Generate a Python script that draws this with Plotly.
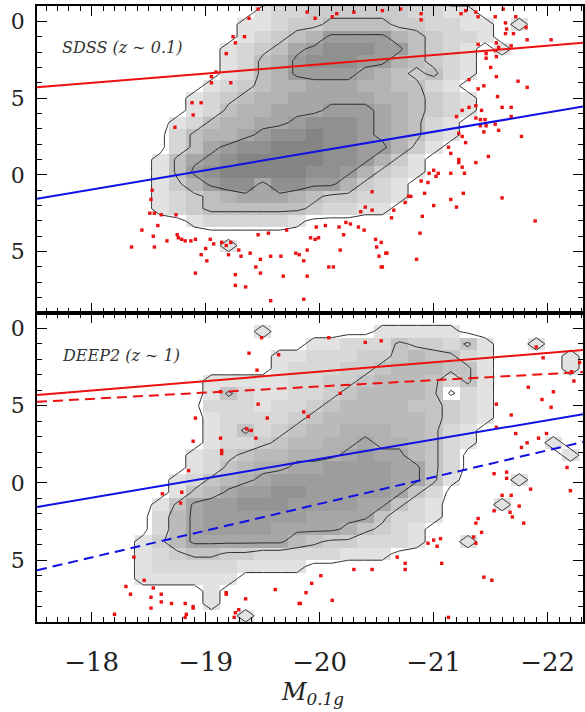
import plotly.graph_objects as go

# ---------------------------------------------------------------------------
# Binning of the colour-magnitude plane (bin centres)
# ---------------------------------------------------------------------------
MAG_CENTRES = [-18.45, -18.60, -18.75, -18.90, -19.05, -19.20, -19.35, -19.50, -19.65,
               -19.80, -19.95, -20.10, -20.25, -20.40, -20.55, -20.70, -20.85, -21.00,
               -21.15, -21.30, -21.45, -21.60, -21.75, -21.90, -22.05, -22.20]
COLOUR_CENTRES = [2.06, 1.98, 1.90, 1.82, 1.74, 1.66, 1.58, 1.50, 1.42, 1.34, 1.26, 1.18,
                  1.10, 1.02, 0.94, 0.86, 0.78, 0.70, 0.62, 0.54, 0.46, 0.38, 0.30, 0.22, 0.14]
MAG_STEP = 0.15
COLOUR_STEP = 0.08

# Galaxy density per bin (one character per magnitude bin, 0 = empty)
SDSS_DENSITY = [
    "00000001223333332211000000",
    "00000011233444433221101000",
    "00000012345777754322100000",
    "00000123467888774321010000",
    "00000124578887754321000000",
    "00000124577776543421000000",
    "00001234556665544210000000",
    "00012345566666554321000000",
    "00012455666777654321000000",
    "00124556678887654210000000",
    "00245567889887654210000000",
    "00246788999887753100000000",
    "01467899999887531000000000",
    "01478999998875321000000000",
    "01357886887753210000000000",
    "01234566654332210000000000",
    "01234444443221100000000000",
    "00012222210000000000000000",
    "00000000000000000000000000",
    "00000100000000000000000000",
]

DEEP2_DENSITY = [
    "00000000000000000000000000",
    "00000001000000111110000000",
    "00000000001122243324100100",
    "00000000112223345442100001",
    "00000000122233455544100001",
    "00001111122334555424100000",
    "00001421122345555402100000",
    "00002221223455554432100000",
    "00001222234555555432100000",
    "00001242345566655421000000",
    "00001223455667665421000010",
    "00012345566678775420000001",
    "00012456677888877420000000",
    "00124567888888877410001000",
    "00145788998888874200000000",
    "01478899988887742100010000",
    "02578888887777422100000000",
    "02578888777764321000000000",
    "13577777754332221001000000",
    "12344332222211100000000000",
    "12222211110000000000000000",
    "11111100000000000000000000",
    "00001000000000000000000000",
    "00001000000000000000000000",
    "00000010000000000000000000",
]

# Galaxies outside the lowest contour (absolute magnitude, colour)
SDSS_OUT_MAG = [
    -18.53, -18.52, -18.51, -18.55, -18.61, -18.58, -18.44, -18.54, -18.35, -18.55,
    -18.66, -18.75, -18.79, -18.82, -18.87, -18.91, -18.74, -19.04, -19.07, -19.00,
    -18.96, -19.01, -18.88, -18.89, -18.73, -18.91, -19.46, -19.38, -19.24, -19.26,
    -19.34, -19.18, -19.09, -19.05, -19.05, -19.22, -18.96, -18.76, -19.14, -19.22,
    -19.18, -19.20, -19.29, -19.31, -19.39, -19.48, -19.57, -19.66, -19.79, -19.82,
    -19.86, -19.89, -19.97, -19.96, -20.05, -19.92, -19.99, -20.18, -20.21, -20.23,
    -20.27, -20.34, -20.39, -20.36, -20.40, -20.46, -20.46, -20.49, -20.50, -20.52,
    -20.54, -20.59, -20.65, -20.63, -19.26, -19.48, -19.89, -20.12, -20.08, -19.68,
    -19.26, -19.35, -19.57, -19.86, -19.44, -19.55, -19.46, -19.71, -20.17, -20.89,
    -21.24, -21.28, -21.37, -21.39, -21.61, -21.54, -21.72, -21.63, -21.64, -21.63,
    -21.70, -21.81, -21.82, -22.03, -21.55, -21.57, -21.68, -21.54, -21.46, -21.46,
    -21.55, -21.50, -21.55, -21.74, -21.82, -21.39, -21.31, -21.39, -21.44, -21.56,
    -21.37, -21.31, -21.25, -21.20, -21.42, -21.60, -21.68, -21.68, -21.37, -21.41,
    -21.45, -21.46, -21.41, -21.54, -21.44, -21.57, -21.25, -21.28, -21.22, -21.77,
    -21.13, -21.15, -21.22, -21.22, -21.25, -21.27, -21.37, -21.48, -21.15, -21.00,
    -21.04, -21.02, -20.96, -20.95, -20.89, -20.80, -20.78, -20.75, -20.92, -21.26,
    -21.15, -21.00, -21.20, -21.60, -21.89, -20.90, -20.88, -20.85, -20.58, -20.55,
    -20.54, -19.89, -19.96, -20.11, -20.15, -20.30, -20.55, -20.71, -20.89,
]
SDSS_OUT_COL = [
    0.90, 0.84, 0.75, 0.75, 0.74, 0.67, 0.64, 0.60, 0.53, 0.53,
    0.57, 0.61, 0.58, 0.57, 0.57, 0.58, 0.74, 0.58, 0.55, 0.52,
    0.48, 0.44, 1.47, 1.39, 1.31, 0.36, 2.08, 2.02, 1.90, 1.86,
    1.90, 1.79, 1.67, 1.64, 1.60, 1.60, 1.47, 0.59, 0.56, 0.56,
    0.54, 0.48, 0.51, 0.47, 0.49, 0.45, 0.47, 0.47, 0.49, 0.48,
    0.44, 0.51, 0.66, 0.58, 0.67, 0.59, 0.59, 0.51, 0.61, 0.69,
    0.68, 0.66, 0.64, 0.76, 0.79, 0.77, 0.89, 0.58, 0.53, 0.47,
    0.40, 0.49, 0.77, 0.72, 0.35, 0.36, 0.34, 0.40, 0.40, 0.34,
    0.28, 0.27, 0.18, 0.19, 0.40, 0.62, 0.61, 0.64, 0.66, 2.05,
    2.05, 2.07, 2.06, 2.03, 2.08, 2.03, 2.03, 1.99, 1.95, 1.92,
    1.92, 1.96, 1.88, 1.88, 1.86, 1.83, 1.84, 1.81, 1.79, 1.76,
    1.77, 1.70, 1.64, 1.61, 1.57, 1.85, 1.62, 1.56, 1.58, 1.51,
    1.45, 1.44, 1.42, 1.38, 1.42, 1.44, 1.44, 1.38, 1.37, 1.36,
    1.36, 1.32, 1.32, 1.33, 1.28, 1.29, 1.25, 1.21, 1.27, 1.25,
    1.18, 1.14, 1.10, 1.08, 1.05, 1.01, 1.08, 1.12, 1.01, 1.03,
    1.01, 0.99, 1.01, 0.95, 0.96, 0.86, 0.86, 0.82, 0.88, 0.88,
    0.84, 0.80, 0.79, 0.85, 0.70, 0.73, 0.62, 0.45, 0.49, 0.40,
    0.56, 2.06, 2.02, 2.03, 2.05, 2.06, 2.07, 2.08, 2.01,
]

DEEP2_OUT_MAG = [
    -18.91, -18.89, -18.85, -18.62, -18.79, -18.37, -18.30, -18.34, -18.46, -18.52,
    -18.54, -18.61, -18.70, -18.89, -18.83, -18.20, -18.52, -19.14, -18.61, -18.82,
    -19.18, -19.49, -19.38, -19.64, -19.45, -19.13, -19.46, -19.54, -19.90, -19.36,
    -19.40, -19.13, -19.44, -19.14, -18.78, -20.08, -20.40, -20.54, -20.18, -19.86,
    -20.68, -20.46, -20.30, -20.01, -19.93, -19.88, -20.11, -19.83, -19.61, -19.35,
    -19.18, -18.89, -19.26, -19.29, -21.96, -21.90, -22.28, -22.21, -22.23, -21.83,
    -22.05, -21.95, -22.03, -21.55, -21.68, -21.55, -21.72, -21.92, -21.99, -21.82,
    -21.77, -22.17, -22.20, -21.53, -21.64, -21.64, -21.85, -21.60, -21.68, -21.53,
    -21.67, -21.75, -21.69, -21.79, -21.39, -21.37, -21.42, -21.35, -21.37, -21.06,
    -21.00, -21.03, -20.95, -21.07, -20.75, -20.75, -21.44, -21.51, -21.13, -18.82,
    -19.25, -19.82,
]
DEEP2_OUT_COL = [
    1.42, 1.27, 1.08, 0.93, 0.94, 0.52, 0.33, 0.28, 0.37, 0.26,
    0.32, 0.23, 0.22, 0.20, 0.15, 0.15, 0.19, 1.21, 0.28, 0.22,
    0.29, 1.94, 1.84, 1.83, 1.73, 1.59, 1.51, 1.42, 1.43, 1.35,
    1.34, 1.29, 1.29, 1.19, 0.87, 1.94, 1.91, 1.92, 1.58, 1.46,
    0.52, 0.44, 0.44, 0.40, 0.35, 0.29, 0.24, 0.22, 0.31, 0.25,
    0.28, 0.19, 0.16, 0.18, 1.81, 1.88, 1.78, 1.72, 1.66, 1.62,
    1.59, 1.54, 1.49, 1.51, 1.44, 1.36, 1.32, 1.29, 1.32, 1.26,
    1.23, 1.10, 0.95, 1.06, 1.07, 1.03, 0.96, 0.92, 0.92, 0.82,
    0.81, 0.85, 0.78, 0.74, 0.77, 0.74, 0.68, 0.65, 0.61, 0.64,
    0.63, 0.59, 0.61, 0.48, 0.48, 0.44, 0.39, 0.37, 0.13, 0.13,
    0.13, 0.22,
]

# Red-sequence / blue-cloud ridge lines, evaluated at the plot edges
FIT_MAG = [-17.52, -22.31]
SDSS_RED_FIT = [1.57, 1.86]
SDSS_BLUE_FIT = [0.845, 1.445]
DEEP2_RED_FIT = [1.525, 1.718]
DEEP2_BLUE_FIT = [0.435, 1.265]

X_RANGE = [-17.52, -22.31]
Y_RANGE = [0.1, 2.1]
Y_TICKS = [0.5, 1.0, 1.5, 2.0]
Y_TICK_TEXT = ["5", "0", "5", "0"]

CONTOUR_LEVELS = dict(start=0.5, end=6.5, size=3)
RED = "rgb(236,16,16)"
BLUE = "rgb(16,16,228)"
SERIF = "DejaVu Serif"


def parse_grid(rows):
    return [[int(ch) for ch in row] for row in rows]


def padded(grid, xs, ys):
    """Surround the grid with empty bins so outer contours close."""
    ncol = len(grid[0])
    z = [[0] * (ncol + 2)]
    for row in grid:
        z.append([0] + row + [0])
    z.append([0] * (ncol + 2))
    xp = [xs[0] + MAG_STEP] + list(xs) + [xs[-1] - MAG_STEP]
    yp = [ys[0] + COLOUR_STEP] + list(ys) + [ys[-1] - COLOUR_STEP]
    return z, xp, yp


def density_traces(rows, xa, ya, zmax):
    grid = parse_grid(rows)
    ys = COLOUR_CENTRES[:len(grid)]
    shade = [[v if v > 0 else None for v in row] for row in grid]
    heat = go.Heatmap(
        z=shade, x=MAG_CENTRES, y=ys, xaxis=xa, yaxis=ya,
        zmin=1, zmax=zmax, zsmooth=False, showscale=False, hoverinfo="skip",
        colorscale=[[0, "rgb(226,226,226)"], [1, "rgb(132,132,132)"]],
    )
    zc, xc, yc = padded(grid, MAG_CENTRES, ys)
    cont = go.Contour(
        z=zc, x=xc, y=yc, xaxis=xa, yaxis=ya,
        contours=dict(coloring="lines", **CONTOUR_LEVELS),
        colorscale=[[0, "rgb(40,40,40)"], [1, "rgb(40,40,40)"]],
        line=dict(width=1, smoothing=0), showscale=False, hoverinfo="skip",
    )
    return [heat, cont]


def outlier_trace(mags, cols, xa, ya):
    return go.Scatter(
        x=mags, y=cols, xaxis=xa, yaxis=ya, mode="markers",
        marker=dict(symbol="square", size=3.4, color=RED, line=dict(width=0)),
        hoverinfo="skip",
    )


def fit_trace(vals, color, dash, xa, ya):
    return go.Scatter(
        x=FIT_MAG, y=vals, xaxis=xa, yaxis=ya, mode="lines",
        line=dict(color=color, width=2, dash=dash), hoverinfo="skip",
    )


traces = []
# upper panel: SDSS
traces += density_traces(SDSS_DENSITY, "x2", "y2", 9)
traces.append(outlier_trace(SDSS_OUT_MAG, SDSS_OUT_COL, "x2", "y2"))
traces.append(fit_trace(SDSS_RED_FIT, RED, "solid", "x2", "y2"))
traces.append(fit_trace(SDSS_BLUE_FIT, BLUE, "solid", "x2", "y2"))
# lower panel: DEEP2
traces += density_traces(DEEP2_DENSITY, "x", "y", 10.5)
traces.append(outlier_trace(DEEP2_OUT_MAG, DEEP2_OUT_COL, "x", "y"))
traces.append(fit_trace(SDSS_RED_FIT, RED, "solid", "x", "y"))
traces.append(fit_trace(SDSS_BLUE_FIT, BLUE, "solid", "x", "y"))
traces.append(fit_trace(DEEP2_RED_FIT, RED, "10px,6px", "x", "y"))
traces.append(fit_trace(DEEP2_BLUE_FIT, BLUE, "10px,6px", "x", "y"))

fig = go.Figure(traces)

axis_common = dict(
    showline=True, linecolor="black", linewidth=1.6, mirror="ticks",
    ticks="inside", ticklen=10, tickwidth=1.2, tickcolor="black",
    showgrid=False, zeroline=False,
)
x_common = dict(
    axis_common, range=X_RANGE, tickmode="linear", tick0=-18, dtick=1,
    minor=dict(ticks="inside", ticklen=5, tickwidth=1, tickcolor="black",
               tickmode="linear", tick0=0, dtick=0.1),
    tickfont=dict(family=SERIF, size=26, color="#222"),
)
y_common = dict(
    axis_common, range=Y_RANGE, tickmode="array", tickvals=Y_TICKS,
    ticktext=Y_TICK_TEXT,
    minor=dict(ticks="inside", ticklen=5, tickwidth=1, tickcolor="black",
               tickmode="linear", tick0=0, dtick=0.1),
    tickfont=dict(family=SERIF, size=22, color="#222"), ticklabelstandoff=6,
)

SPLIT = 0.5016
fig.update_layout(
    width=585, height=712,
    margin=dict(l=37, r=0, t=6, b=90),
    paper_bgcolor="white", plot_bgcolor="white",
    showlegend=False,
    xaxis=dict(x_common, anchor="y", domain=[0, 1], ticklabelstandoff=16),
    xaxis2=dict(x_common, anchor="y2", domain=[0, 1], matches="x",
                showticklabels=False),
    yaxis=dict(y_common, anchor="x", domain=[0, SPLIT]),
    yaxis2=dict(y_common, anchor="x2", domain=[SPLIT, 1]),
    annotations=[
        dict(text="<i>SDSS (z ∼ 0.1)</i>", xref="paper", yref="paper",
             x=0.042, y=0.933, xanchor="left", yanchor="middle", showarrow=False,
             font=dict(family=SERIF, size=16, color="#333")),
        dict(text="<i>DEEP2 (z ∼ 1)</i>", xref="paper", yref="paper",
             x=0.042, y=0.432, xanchor="left", yanchor="middle", showarrow=False,
             font=dict(family=SERIF, size=16, color="#333")),
        dict(text="<i>M</i><sub><i>0.1g</i></sub>", xref="paper", yref="paper",
             x=0.505, y=-0.088, xanchor="center", yanchor="top", showarrow=False,
             font=dict(family=SERIF, size=24, color="#222")),
    ],
)

fig.write_html("out.html")
